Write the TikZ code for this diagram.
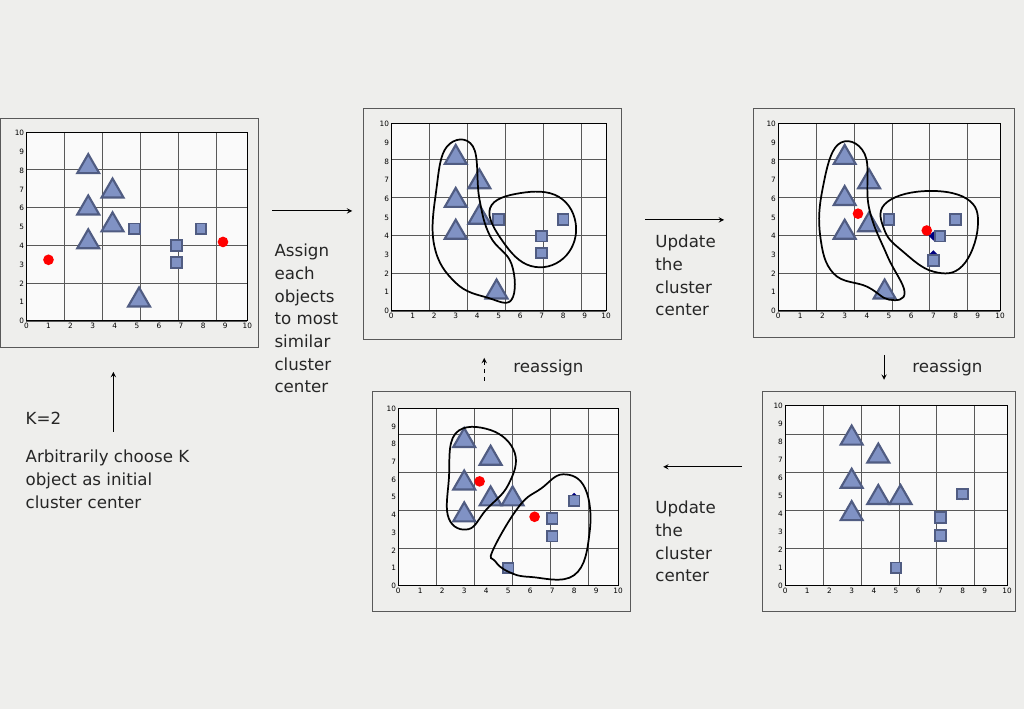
\documentclass[tikz,border=0pt]{standalone}
\usepackage{fontspec}
\setmainfont{DejaVu Sans}
\usetikzlibrary{shapes.geometric}
\definecolor{bg}{RGB}{238,238,236}
\definecolor{mk}{RGB}{128,146,196}
\definecolor{mkd}{RGB}{80,92,130}
\tikzset{
 tri/.style={regular polygon,regular polygon sides=3,fill=mk,draw=mkd,line width=1.6pt,minimum size=19pt,inner sep=0pt},
 sq/.style={rectangle,fill=mk,draw=mkd,line width=1.4pt,minimum size=8pt,inner sep=0pt},
 ctr/.style={circle,fill=red,minimum size=8pt,inner sep=0pt},
 dia/.style={diamond,fill=blue!50!black,minimum size=7pt,inner sep=0pt},
 blob/.style={line width=1.3pt,black},
 frm/.style={draw=gray!70!black,fill=bg,line width=0.6pt},
 lbl/.style={font=\fontsize{12.5}{17}\selectfont,align=left,anchor=north west,inner sep=0pt,text=black!85},
 ax/.style={font=\fontsize{5.5}{6}\selectfont,inner sep=1.5pt},
 arr/.style={->,>=stealth,line width=0.8pt}
}
\newcommand\panel[9]{%
 \draw[frm] (#1,#2) rectangle (#3,#4);
 \pgfmathsetmacro\ux{(#7-#5)*0.075}
 \pgfmathsetmacro\uy{(#8-#6)*0.075}
 \begin{scope}[shift={(#5,#8)},x=\ux pt,y=\uy pt]
  \fill[white!96!gray] (0,0) rectangle (10,10);
  \draw[gray!70!black,line width=0.5pt] (0,0) grid (10,10);
  \draw[black,line width=0.7pt] (0,0) rectangle (10,10);
  \foreach \i in {0,...,10}{\node[ax,below] at (\i,0) {\i}; \node[ax,left] at (0,\i) {\i};}
  #9
 \end{scope}}
\begin{document}
\begin{tikzpicture}[x=0.75pt,y=-0.75pt]
\fill[bg] (0,0) rectangle (1024,709);
% panel 1
\panel{0}{118}{258}{348}{26}{133}{247}{321}{%
 \foreach \p in {(2.8,8.2),(2.8,6),(2.8,4.2),(3.9,6.9),(3.9,5.1),(5.1,1.1)} \node[tri] at \p {};
 \foreach \p in {(4.9,4.9),(6.8,4),(6.8,3.1),(7.9,4.9)} \node[sq] at \p {};
 \node[ctr] (c1) at (1,3.25) {}; \node[ctr] (c2) at (8.9,4.2) {};}
% panel 2
\panel{363}{108}{621}{340}{391}{124}{606}{311}{%
 \foreach \p in {(3,8.2),(3,5.9),(3,4.2),(4.1,6.9),(4.1,5),(4.9,1)} \node[tri] at \p {};
 \foreach \p in {(5,4.9),(7,4),(7,3.1),(8,4.9)} \node[sq] at \p {};
 \draw[blob] plot[smooth cycle,tension=0.7] coordinates {(2.1,6.5)(2.6,8.8)(3.8,8.8)(4.1,6)(4.6,4)(5.6,2.5)(5.6,0.6)(4.5,0.7)(3,1.5)(2,3.5)};
 \draw[blob] plot[smooth cycle,tension=0.7] coordinates {(4.6,5.5)(6,6.3)(7.8,6.1)(8.6,4.5)(8,2.8)(6.5,2.4)(5.2,3.7)};}
% panel 3
\panel{753}{108}{1014}{338}{778}{124}{1000}{311}{%
 \foreach \p in {(3,8.2),(3,6),(3,4.2),(4.1,6.9),(4.1,4.6),(4.8,1.0)} \node[tri] at \p {};
 \node[dia] at (7,4) {}; \node[dia] at (7,3) {};
 \foreach \p in {(5,4.9),(7.3,4),(7,2.7),(8,4.9)} \node[sq] at \p {};
 \draw[blob] plot[smooth cycle,tension=0.7] coordinates {(2,6.5)(2.7,8.9)(3.9,8.4)(4.1,5.5)(4.9,3)(5.7,1)(5,0.6)(4,1.3)(2.5,2)(1.9,4)};
 \draw[blob] plot[smooth cycle,tension=0.7] coordinates {(4.8,5.7)(6.5,6.4)(8.5,6)(9,4.5)(8.3,2.4)(7,2.1)(5.6,3.2)(4.8,4.3)};
 \node[ctr] at (3.6,5.2) {}; \node[ctr] at (6.7,4.3) {};}
% panel 4
\panel{762}{392}{1015}{612}{785}{406}{1007}{586}{%
 \foreach \p in {(3,8.2),(3,5.8),(3,4),(4.2,7.2),(4.2,4.9),(5.2,4.9)} \node[tri] at \p {};
 \node[dia] at (8,5) {}; \node[dia] at (7,3.9) {};
 \foreach \p in {(7,3.8),(7,2.8),(8,5.1),(5,1)} \node[sq] at \p {};}
% panel 5
\panel{372}{392}{630}{612}{398}{409}{618}{586}{%
 \foreach \p in {(3,8.2),(3,5.8),(3,4),(4.2,7.2),(4.2,4.9),(5.2,4.9)} \node[tri] at \p {};
 \node[dia] at (8,5) {}; \node[dia] at (7,3.9) {};
 \foreach \p in {(7,3.8),(7,2.8),(8,4.8),(5,1)} \node[sq] at \p {};
 \draw[blob] plot[smooth cycle,tension=0.7] coordinates {(2.3,6)(2.6,8.6)(4.2,8.8)(5.3,7.5)(5,5.7)(4,4.3)(3.2,3.2)(2.3,3.8)};
 \draw[blob] plot[smooth cycle,tension=0.7] coordinates {(4.3,2)(5.5,4.5)(6.5,5.5)(7.5,6.3)(8.5,5.5)(8.7,3)(8,0.6)(6,0.5)(5,0.8)(4.4,1.4)};
 \node[ctr] at (3.7,5.9) {}; \node[ctr] at (6.2,3.9) {};}
% texts
\node[lbl] (t1) at (274,244) {Assign\\each\\objects\\to most\\similar\\cluster\\center};
\node[lbl] (t2) at (655,235) {Update\\the\\cluster\\center};
\node[lbl] (t3) at (912,360) {reassign};
\node[lbl] (t4) at (513,360) {reassign};
\node[lbl] (t5) at (655,501) {Update\\the\\cluster\\center};
\node[lbl] (t6) at (25,412) {K=2};
\node[lbl] (t7) at (25,450) {Arbitrarily choose K\\object as initial\\cluster center};
% arrows
\coordinate (a1) at (272,211); \coordinate (b1) at (352,211);
\coordinate (a2) at (645,220); \coordinate (b2) at (724,220);
\coordinate (a3) at (884,355); \coordinate (b3) at (884,380);
\coordinate (a4) at (742,467); \coordinate (b4) at (663,467);
\coordinate (a5) at (484,381); \coordinate (b5) at (484,358);
\coordinate (a6) at (113,432); \coordinate (b6) at (113,372);
\draw[arr] (a1) -- (b1); \draw[arr] (a2) -- (b2); \draw[arr] (a3) -- (b3);
\draw[arr] (a4) -- (b4); \draw[arr,dashed] (a5) -- (b5); \draw[arr] (a6) -- (b6);
\end{tikzpicture}
\end{document}
